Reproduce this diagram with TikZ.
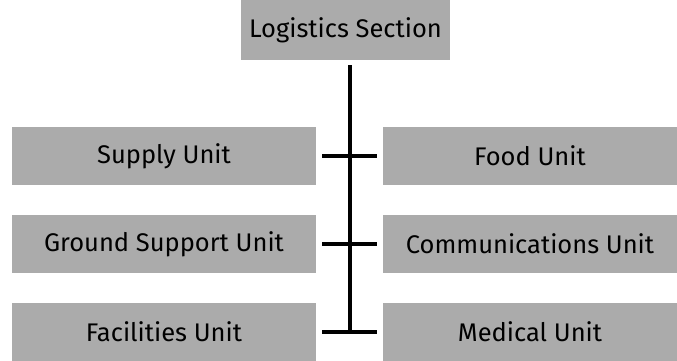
\documentclass[tikz,border=0pt]{standalone}
\usepackage{fontspec}
\setmainfont{Fira Sans}
\usepackage{tikz}
\usetikzlibrary{calc}

\begin{document}
\begin{tikzpicture}[x=1pt,y=-1pt,
	unit/.style={fill=black!33, minimum height=58pt, inner sep=0pt, font=\fontsize{25.5}{30}\selectfont},
	leftunit/.style={unit, minimum width=304pt},
	rightunit/.style={unit, minimum width=294pt},
	link/.style={line width=3.5pt}]
\useasboundingbox (0,0) rectangle (677,361);
%\node[unit] (logistics) at (345,30) {Logistics Section};
\node[unit, minimum width=209pt, minimum height=60pt] (logistics) at (345.5,30) {Logistics Section};
% left column
\node[leftunit] (supply) at (164,156) {Supply Unit};
\node[leftunit] (ground) at (164,244) {Ground Support Unit};
\node[leftunit] (facilities) at (164,332) {Facilities Unit};
% right column
\node[rightunit] (food) at (530,156) {Food Unit};
\node[rightunit] (comms) at (530,244) {Communications Unit};
\node[rightunit] (medical) at (530,332) {Medical Unit};
\coordinate (spine) at (350,332);
\path[link]
(logistics.south -| spine) edge[shorten <=5pt] (spine)
(supply) edge[shorten <=6pt, shorten >=6pt] (food)
(ground) edge[shorten <=6pt, shorten >=6pt] (comms)
(facilities) edge[shorten <=6pt, shorten >=6pt] (medical)
;
\end{tikzpicture}
\end{document}
